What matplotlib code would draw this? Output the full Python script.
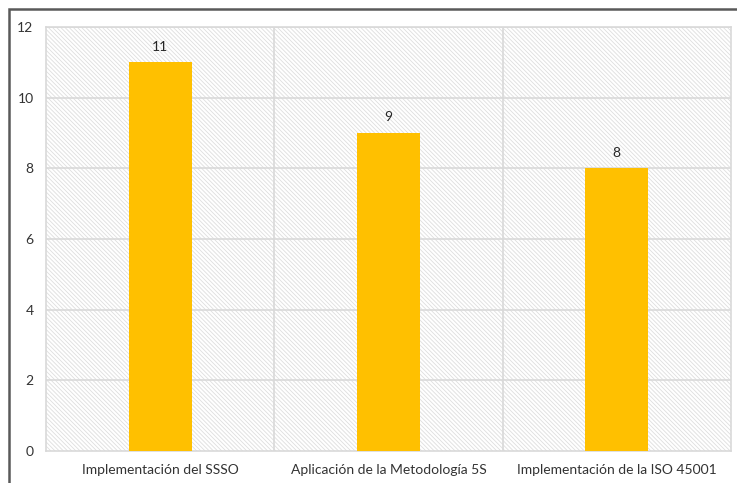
import matplotlib.pyplot as plt
from matplotlib.patches import Rectangle

categories = ["Implementación del SSSO", "Aplicación de la Metodología 5S", "Implementación de la ISO 45001"]
values = [11, 9, 8]
yticks = [0, 2, 4, 6, 8, 10, 12]

plt.rcParams["font.family"] = ["Lato", "DejaVu Sans"]
plt.rcParams["hatch.color"] = "#dedede"
plt.rcParams["hatch.linewidth"] = 0.6

fig = plt.figure(figsize=(7.37, 4.83), dpi=100)
ax = fig.add_axes([46 / 737, 32 / 483, 685 / 737, 424 / 483])

# hatched plot-area background
ax.add_patch(Rectangle((0, 0), 1, 1, transform=ax.transAxes, facecolor="white",
                       edgecolor="#dedede", hatch="\\" * 8, linewidth=0, zorder=0))

x = list(range(len(categories)))
bars = ax.bar(x, values, width=0.276, color="#ffc000", zorder=3)
for b, v in zip(bars, values):
    ax.text(b.get_x() + b.get_width() / 2, v + 0.27, str(v), ha="center", va="bottom",
            fontsize=10, color="#262626", zorder=4)

ax.set_xlim(-0.5, len(categories) - 0.5)
ax.set_ylim(0, 12)
ax.set_yticks(yticks)
ax.set_xticks(x)
ax.set_xticklabels(categories)
ax.tick_params(axis="both", length=0, labelsize=10, labelcolor="#333333")
ax.tick_params(axis="x", pad=9)
ax.tick_params(axis="y", pad=9)

for yv in yticks[1:]:
    ax.axhline(yv, color="#d9d9d9", linewidth=1.2, zorder=1)
for xv in [0.5, 1.5]:
    ax.axvline(xv, color="#d9d9d9", linewidth=1.2, zorder=1)
for s in ax.spines.values():
    s.set_color("#d9d9d9")
    s.set_linewidth(1.2)

# outer chart frame
fig.add_artist(Rectangle((9 / 737, -0.1), 1.2, 1 - 9 / 483 + 0.1, transform=fig.transFigure,
                         facecolor="none", edgecolor="#595959", linewidth=1.8))

fig.savefig("out.png", dpi=100)
